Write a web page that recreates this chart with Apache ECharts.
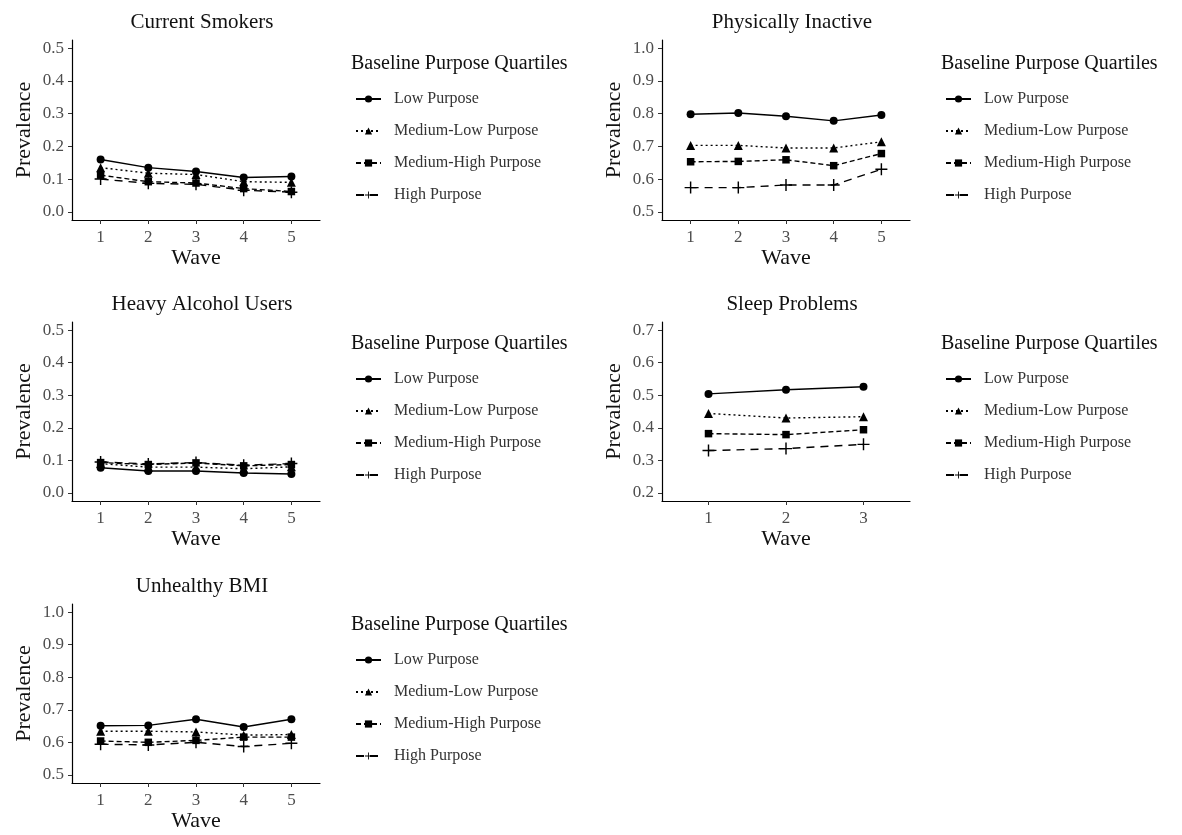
<!DOCTYPE html>
<html>
<head>
<meta charset="utf-8">
<script src="https://cdn.jsdelivr.net/npm/echarts@6/dist/echarts.min.js"></script>
<style>
html,body{margin:0;padding:0;background:#fff;}
#chart{width:1182px;height:835px;}
</style>
</head>
<body>
<div id="chart"></div>
<script>
// ---- data ----
const groups = ['Low Purpose', 'Medium-Low Purpose', 'Medium-High Purpose', 'High Purpose'];
const waves5 = [1, 2, 3, 4, 5];
const waves3 = [1, 2, 3];
const panelTitles = ['Current Smokers', 'Physically Inactive', 'Heavy Alcohol Users', 'Sleep Problems', 'Unhealthy BMI'];
const legendTitle = 'Baseline Purpose Quartiles';

// rows: Low, Medium-Low, Medium-High, High
const smokers = [
  [0.160, 0.135, 0.123, 0.105, 0.108],
  [0.135, 0.118, 0.114, 0.092, 0.090],
  [0.112, 0.092, 0.088, 0.071, 0.062],
  [0.100, 0.087, 0.084, 0.066, 0.060]
];
const inactive = [
  [0.798, 0.802, 0.792, 0.778, 0.796],
  [0.703, 0.703, 0.695, 0.695, 0.714],
  [0.653, 0.654, 0.659, 0.641, 0.678],
  [0.574, 0.574, 0.582, 0.582, 0.630]
];
const alcohol = [
  [0.077, 0.067, 0.067, 0.061, 0.058],
  [0.090, 0.079, 0.079, 0.074, 0.080],
  [0.093, 0.087, 0.092, 0.083, 0.087],
  [0.095, 0.089, 0.093, 0.085, 0.090]
];
const sleep = [
  [0.504, 0.517, 0.526],
  [0.444, 0.430, 0.434],
  [0.382, 0.379, 0.394],
  [0.330, 0.336, 0.349]
];
const bmi = [
  [0.651, 0.652, 0.671, 0.647, 0.671],
  [0.634, 0.634, 0.632, 0.622, 0.624],
  [0.604, 0.600, 0.606, 0.616, 0.616],
  [0.594, 0.592, 0.600, 0.587, 0.597]
];
const yTicksLow = [0, 0.1, 0.2, 0.3, 0.4, 0.5];
const yTicksHigh = [0.5, 0.6, 0.7, 0.8, 0.9, 1.0];
const yTicksSleep = [0.2, 0.3, 0.4, 0.5, 0.6, 0.7];

// ---- styling ----
const FONT = 'Liberation Serif';
const plusPath = 'path://M4.4,0 H5.6 V4.4 H10 V5.6 H5.6 V10 H4.4 V5.6 H0 V4.4 H4.4 Z';
const symbols = ['circle', 'triangle', 'rect', plusPath];
const symbolSizes = [8, 9, 7.5, 12];
const dashes = ['solid', [2, 3], [5, 3], [8, 6]];

const panels = [
  {data: smokers, waves: waves5, ticks: yTicksLow, left: 72, top: 40, height: 180, titleY: 7},
  {data: inactive, waves: waves5, ticks: yTicksHigh, left: 662, top: 40, height: 180, titleY: 7},
  {data: alcohol, waves: waves5, ticks: yTicksLow, left: 72, top: 322, height: 179, titleY: 289},
  {data: sleep, waves: waves3, ticks: yTicksSleep, left: 662, top: 322, height: 179, titleY: 289},
  {data: bmi, waves: waves5, ticks: yTicksHigh, left: 72, top: 604, height: 179, titleY: 571}
];
const legendPos = [
  {left: 351, top: 54}, {left: 941, top: 54},
  {left: 351, top: 334}, {left: 941, top: 334},
  {left: 351, top: 615}
];

const grid = [], xAxis = [], yAxis = [], series = [], title = [], legend = [];
panels.forEach((p, i) => {
  grid.push({left: p.left, top: p.top, width: 248, height: p.height});
  const nW = p.waves.length;
  xAxis.push({
    type: 'value', gridIndex: i, min: 0.4, max: nW + 0.6,
    name: 'Wave', nameLocation: 'middle', nameGap: 26,
    nameTextStyle: {fontFamily: FONT, fontSize: 22, color: '#111'},
    axisLine: {show: true, onZero: false, lineStyle: {color: '#000', width: 1.2}},
    axisTick: {show: true, length: 4, customValues: p.waves, lineStyle: {color: '#333'}},
    axisLabel: {customValues: p.waves, fontFamily: FONT, fontSize: 17, color: '#4d4d4d', margin: 9},
    splitLine: {show: false}
  });
  const tk = p.ticks;
  const span = tk[tk.length - 1] - tk[0];
  yAxis.push({
    type: 'value', gridIndex: i, min: tk[0] - span * 0.05, max: tk[tk.length - 1] + span * 0.05,
    name: 'Prevalence', nameLocation: 'middle', nameGap: 37,
    nameTextStyle: {fontFamily: FONT, fontSize: 22, color: '#111'},
    axisLine: {show: true, onZero: false, lineStyle: {color: '#000', width: 1.2}},
    axisTick: {show: true, length: 4, customValues: tk, lineStyle: {color: '#333'}},
    axisLabel: {customValues: tk, fontFamily: FONT, fontSize: 17, color: '#4d4d4d', margin: 8,
      formatter: v => v.toFixed(1)},
    splitLine: {show: false}
  });
  title.push({
    text: panelTitles[i], left: p.left + 125, top: p.titleY, textAlign: 'center',
    textStyle: {fontFamily: FONT, fontSize: 21, fontWeight: 'normal', color: '#111'}
  });
  title.push({
    text: legendTitle, left: legendPos[i].left - 5, top: legendPos[i].top - 5,
    textStyle: {fontFamily: FONT, fontSize: 20, fontWeight: 'normal', color: '#111'}
  });
  legend.push({
    data: groups, orient: 'vertical', left: legendPos[i].left - 1, top: legendPos[i].top + 32,
    itemWidth: 25, itemHeight: 9, itemGap: 16, selectedMode: false,
    textStyle: {fontFamily: FONT, fontSize: 16, color: '#333', padding: [0, 0, 0, 8]}
  });
  groups.forEach((g, k) => {
    series.push({
      type: 'line', name: g, xAxisIndex: i, yAxisIndex: i,
      data: p.waves.map((w, j) => [w, p.data[k][j]]),
      symbol: symbols[k], symbolSize: symbolSizes[k], showSymbol: true,
      lineStyle: {color: '#000', width: 1.4, type: dashes[k]},
      itemStyle: {color: '#000'},
      emphasis: {disabled: true}, animation: false
    });
  });
});

const chart = echarts.init(document.getElementById('chart'), null, {renderer: 'canvas'});
chart.setOption({backgroundColor: '#fff', animation: false, grid, xAxis, yAxis, series, title, legend});
</script>
</body>
</html>
